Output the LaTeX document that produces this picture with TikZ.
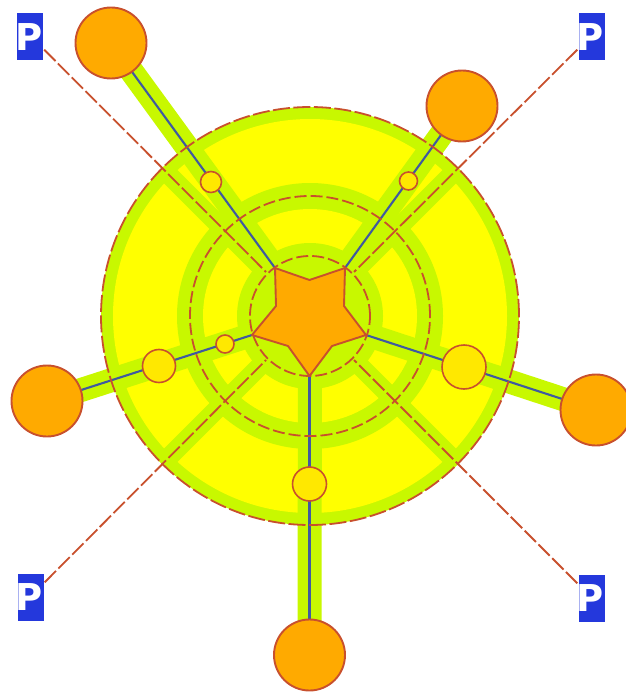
\documentclass[tikz,border=0pt]{standalone}
\usepackage{fontspec}
\setmainfont{DejaVu Sans}
\definecolor{lime}{HTML}{C8F800}
\definecolor{yel}{HTML}{FFFF00}
\definecolor{org}{HTML}{FFAA00}
\definecolor{smallfill}{HTML}{FFE800}
\definecolor{edge}{HTML}{C8502D}
\definecolor{road}{HTML}{3F5AA0}
\definecolor{pblue}{HTML}{2438DC}
\pgfdeclarelayer{under}
\pgfsetlayers{under,main}
\newcommand{\parksign}{\makebox[0pt]{P\hspace*{2.5pt}}}
\tikzset{
  bigc/.style={circle,draw=edge,fill=org,line width=1.9pt,minimum size=71pt,inner sep=0pt,outer sep=0pt},
  smallc/.style={circle,draw=edge,fill=smallfill,line width=1.6pt,inner sep=0pt,outer sep=0pt},
  pbox/.style={rectangle,fill=pblue,text=white,font=\bfseries\fontsize{37}{37}\selectfont,minimum width=26pt,minimum height=47pt,inner sep=0pt,text height=27pt,text depth=0pt},
  strip/.style={draw=lime,line width=24pt},
  thinstrip/.style={draw=lime,line width=19pt},
  road/.style={draw=road,line width=2.1pt},
  dashline/.style={draw=edge,line width=1.8pt,dash pattern=on 16pt off 3.5pt},
  dashring/.style={draw=edge,line width=1.8pt,dash pattern=on 12pt off 4pt},
  zone/.style={fill=#1},
}
\begin{document}
\begin{tikzpicture}[x=1pt,y=-1pt]
\useasboundingbox (0,0) rectangle (625,695);
\coordinate (c) at (310,316);
\coordinate (s1) at (275,268);
\coordinate (s2) at (345,268);
\coordinate (s3) at (366,335);
\coordinate (s4) at (309.5,376);
\coordinate (s5) at (252,335);
\coordinate (e1) at (266,272);
\coordinate (e2) at (354,272);
\coordinate (e3) at (354,360);
\coordinate (e4) at (266,360);
\coordinate (k1) at (162,168);
\coordinate (k2) at (458,168);
\coordinate (k3) at (458,464);
\coordinate (k4) at (162,464);
% nodes
\node[bigc] (b1) at (111,43) {};
\node[bigc] (b2) at (462,106) {};
\node[bigc] (b3) at (596,410) {};
\node[bigc] (b4) at (309.5,655) {};
\node[bigc] (b5) at (47,401) {};
\node[pbox] (p1) at (30,37) {\parksign};
\node[pbox] (p2) at (591.5,37) {\parksign};
\node[pbox] (p3) at (591.5,598) {\parksign};
\node[pbox] (p4) at (30.5,597) {\parksign};
\begin{pgfonlayer}{under}
% rings
\fill[zone=lime] (c) circle[radius=209pt];
\fill[zone=yel] (c) circle[radius=197pt];
\fill[zone=lime] (c) circle[radius=133pt];
\fill[zone=yel] (c) circle[radius=107pt];
\fill[zone=lime] (c) circle[radius=73pt];
% strips
\draw[thinstrip] (c) -- (k1);
\draw[thinstrip] (c) -- (k2);
\draw[thinstrip] (c) -- (k3);
\draw[thinstrip] (c) -- (k4);
\draw[strip] (c) -- (b1.center);
\draw[strip] (c) -- (b2.center);
\draw[strip] (c) -- (b3.center);
\draw[strip] (c) -- (b4.center);
\draw[strip] (c) -- (b5.center);
% roads
\draw[road] (s1) -- (b1.center);
\draw[road] (s2) -- (b2.center);
\draw[road] (s3) -- (b3.center);
\draw[road] (s4) -- (b4.center);
\draw[road] (s5) -- (b5.center);
% dashed
\draw[dashring] (c) circle[radius=60pt];
\draw[dashring] (c) circle[radius=120pt];
\draw[dashring,dash pattern=on 17pt off 3.5pt] (c) circle[radius=209pt];
\draw[dashline] (p1.south east) ++(1,-11) -- (e1);
\draw[dashline] (p2.south west) ++(-1,-11) -- (e2);
\draw[dashline] (p3.north west) ++(-1,9) -- (e3);
\draw[dashline] (p4.north east) ++(1,9) -- (e4);
\end{pgfonlayer}
% star
\filldraw[draw=edge,fill=org,line width=1.9pt,line join=round]
  (s1) -- (309.5,280) -- (s2) -- (344,306) -- (s3) -- (332,346) -- (s4) -- (288,346) -- (s5) -- (276,306) -- cycle;
% small circles
\node[smallc,minimum size=21pt] (m1) at (211,182) {};
\node[smallc,minimum size=18pt] (m2) at (408.5,181) {};
\node[smallc,minimum size=44pt] (m3) at (464,367) {};
\node[smallc,minimum size=34pt] (m4) at (309.5,484) {};
\node[smallc,minimum size=18pt] (m5) at (225,344) {};
\node[smallc,minimum size=33pt] (m6) at (159,366) {};
\end{tikzpicture}
\end{document}
